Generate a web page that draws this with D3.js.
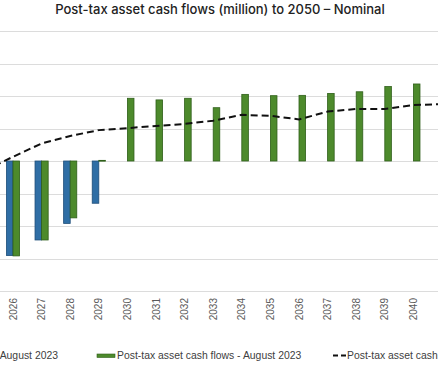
<!DOCTYPE html>
<html><head><meta charset="utf-8">
<script src="https://cdn.jsdelivr.net/npm/d3@7/dist/d3.min.js"></script>
<style>html,body{margin:0;padding:0;background:#fff;overflow:hidden}</style>
</head><body>
<script>
const years = [2025,2026,2027,2028,2029,2030,2031,2032,2033,2034,2035,2036,2037,2038,2039,2040,2041];
const blueValues = [null,-291,-243,-192,-130,null,null,null,null,null,null,null,null,null,null,null,null];
const greenValues = [null,-292,-243,-175,2,193,188,193,164,205,201,202,208,213,229,237,null];
const lineValues = [-30,13,54,77,95,101,108,114,124,142,139,128,152,160,160,172,175];
const yTicks = [-400,-300,-200,-100,0,100,200,300,400];
const titleText = "Post-tax asset cash flows (million) to 2050 \u2013 Nominal";
const legendLabels = ["Pre-tax asset cash flows - August 2023","Post-tax asset cash flows - August 2023","Post-tax asset cash flows - cumulative"];

const W = 438, H = 366;
const svg = d3.select("body").append("svg").attr("width", W).attr("height", H);

const x = d3.scaleBand().domain(years).range([-29.9, 456.3]).padding(0);
const y = d3.scaleLinear().domain([-400, 400]).range([291, 31]);
const cx = d => x(d) + x.bandwidth()/2;
const bw = x.bandwidth()*0.23;

// title
svg.append("text").attr("x", 220).attr("y", 14).attr("text-anchor","middle")
  .attr("font-family","Inter, sans-serif").attr("font-size", 13).attr("font-weight", 500)
  .attr("fill","#222").text(titleText);

// gridlines
svg.append("g").selectAll("line").data(yTicks).join("line")
  .attr("x1",0).attr("x2",W).attr("y1",d=>Math.round(y(d))+0.5).attr("y2",d=>Math.round(y(d))+0.5)
  .attr("stroke","#dcdcdc").attr("stroke-width",1);

const rows = years.map((yr,i)=>({yr, b: blueValues[i], g: greenValues[i], l: lineValues[i]}));

// blue bars
svg.append("g").selectAll("rect").data(rows.filter(r=>r.b!=null)).join("rect")
  .attr("x", r=>cx(r.yr)-bw).attr("width", bw)
  .attr("y", r=>y(Math.max(0,r.b))).attr("height", r=>Math.abs(y(r.b)-y(0)))
  .attr("fill","#2f6ea5").attr("stroke","#1f4e79").attr("stroke-width",0.8);

// green bars
svg.append("g").selectAll("rect").data(rows.filter(r=>r.g!=null)).join("rect")
  .attr("x", r=>cx(r.yr)).attr("width", bw)
  .attr("y", r=>y(Math.max(0,r.g))).attr("height", r=>Math.max(0.8,Math.abs(y(r.g)-y(0))))
  .attr("fill","#4d8a2c").attr("stroke","#2f5f1a").attr("stroke-width",0.8);

// dashed line
const line = d3.line().x(r=>cx(r.yr)).y(r=>y(r.l));
svg.append("path").datum(rows).attr("d", line).attr("fill","none")
  .attr("stroke","#111").attr("stroke-width",2).attr("stroke-dasharray","7,4");

// x labels
svg.append("g").selectAll("text").data(years.filter(v=>v>=2026 && v<=2040)).join("text")
  .attr("transform", d=>`translate(${cx(d)},298) rotate(-90)`)
  .attr("text-anchor","end").attr("dy","0.35em")
  .attr("font-family","Liberation Sans, Arial, sans-serif").attr("font-size",10)
  .attr("fill","#595959").text(d=>d);

// legend
const lg = svg.append("g").attr("font-family","Liberation Sans, Arial, sans-serif").attr("font-size",10.4).attr("fill","#404040");
lg.append("text").attr("x",58).attr("y",359).attr("text-anchor","end").text(legendLabels[0]);
lg.append("rect").attr("x",97).attr("y",354).attr("width",18).attr("height",3.5).attr("fill","#4d8a2c").attr("stroke","#2f5f1a").attr("stroke-width",0.6);
lg.append("text").attr("x",117).attr("y",359).text(legendLabels[1]);
lg.append("line").attr("x1",333).attr("x2",346).attr("y1",355.5).attr("y2",355.5).attr("stroke","#111").attr("stroke-width",2).attr("stroke-dasharray","5,3");
lg.append("text").attr("x",347).attr("y",359).text(legendLabels[2]);
</script>
</body></html>
